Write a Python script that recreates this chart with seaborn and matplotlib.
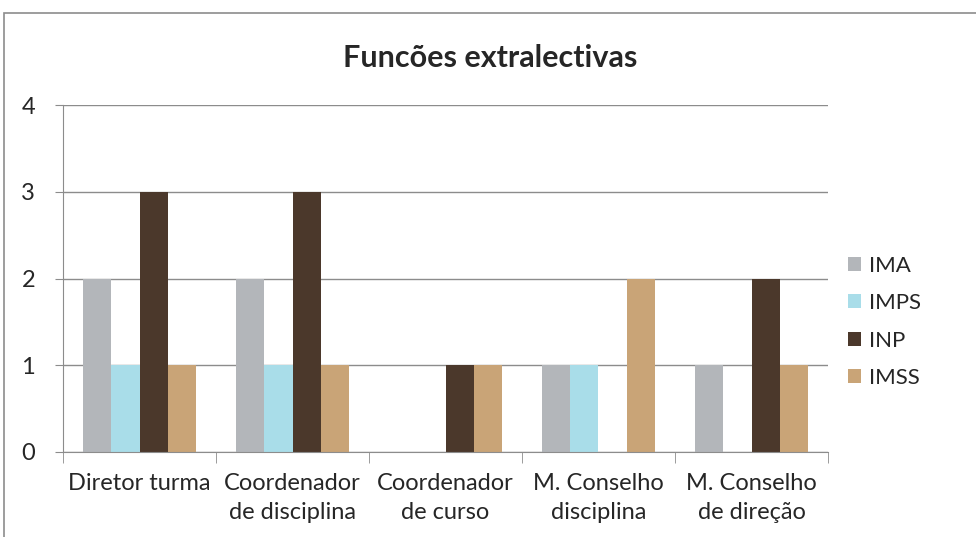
import pandas as pd
import matplotlib.pyplot as plt
import seaborn as sns
from matplotlib.patches import Rectangle

# datos
funciones = ["Diretor turma", "Coordenador\nde disciplina", "Coordenador\nde curso",
             "M. Conselho\ndisciplina", "M. Conselho\nde direção"]
series = ["IMA", "IMPS", "INP", "IMSS"]
ima = [2, 2, 0, 1, 1]
imps = [1, 1, 0, 1, 0]
inp = [3, 3, 1, 0, 2]
imss = [1, 1, 1, 2, 1]
colores = ["#b3b6ba", "#a9dde9", "#4b382b", "#c9a477"]

df = pd.DataFrame({"funcion": funciones * 4,
                   "serie": sum([[s] * 5 for s in series], []),
                   "valor": ima + imps + inp + imss})

sns.set_style("white")
plt.rcParams["font.family"] = ["Lato", "DejaVu Sans"]

fig = plt.figure(figsize=(9.76, 5.37), dpi=100)
ax = fig.add_axes([63 / 976, 1 - 452 / 537, (828 - 63) / 976, (452 - 105) / 537])

sns.barplot(data=df, x="funcion", y="valor", hue="serie", palette=colores,
            width=0.74, saturation=1, ax=ax, edgecolor="none")

ax.set_ylim(0, 4)
ax.set_xlim(-0.5, 4.5)
ax.set_yticks([0, 1, 2, 3, 4])
ax.yaxis.grid(True, color="#8c8c8c", linewidth=1)
ax.set_axisbelow(True)
for s in ["top", "right"]:
    ax.spines[s].set_visible(False)
ax.spines["left"].set_color("#8c8c8c")
ax.spines["bottom"].set_color("#8c8c8c")
ax.set_xlabel("")
ax.set_ylabel("")
ax.tick_params(axis="y", length=6, color="#8c8c8c", labelsize=17, pad=14, left=True)
ax.tick_params(axis="x", length=0, labelsize=17, pad=15)
for t in ax.get_xticklabels():
    t.set_linespacing(1.5)
# marcas entre categorias
ax.set_xticks([-0.5, 0.5, 1.5, 2.5, 3.5, 4.5], minor=True)
ax.tick_params(axis="x", which="minor", length=8, color="#8c8c8c", bottom=True)

ax.set_title("Funcões extralectivas", fontsize=22, fontweight="bold", pad=0,
             x=(490 - 63) / 765, y=1 + 38 / 347)

ax.legend(loc="center left", bbox_to_anchor=(1.0, 0.375), frameon=False, fontsize=16,
          handlelength=0.6, handleheight=0.6, handletextpad=0.35, labelspacing=0.78)

fig.patches.append(Rectangle((4 / 976, -0.1), 1.2, 1.1 - 13 / 537, transform=fig.transFigure,
                             fill=False, edgecolor="#8c8c8c", linewidth=1.2))

fig.savefig("out.png", dpi=100)
